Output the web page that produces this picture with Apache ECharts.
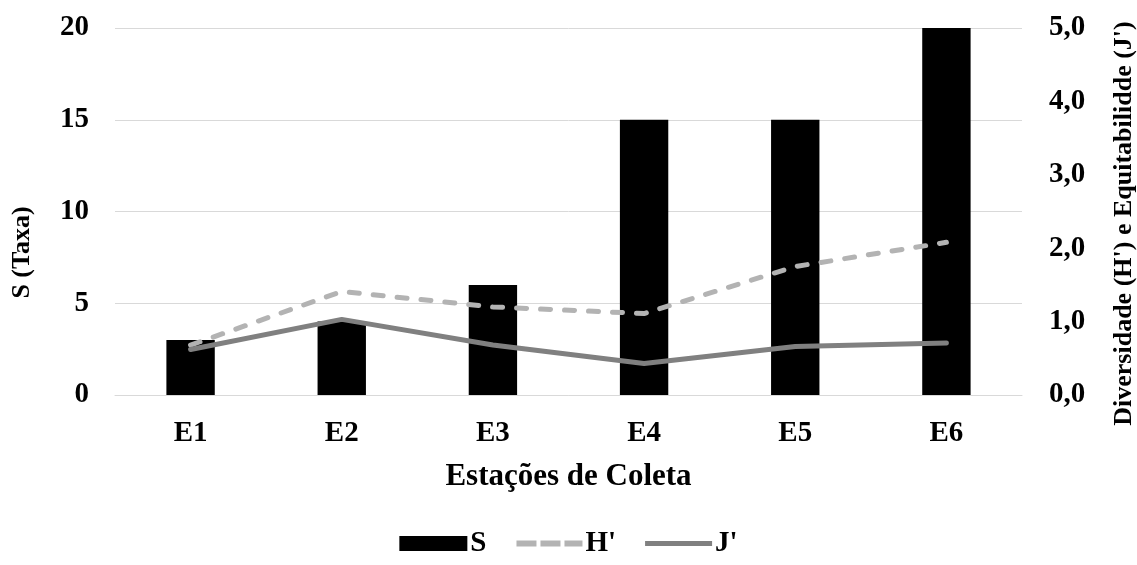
<!DOCTYPE html>
<html><head><meta charset="utf-8">
<script src="https://cdn.jsdelivr.net/npm/echarts@6/dist/echarts.min.js"></script>
<style>html,body{margin:0;padding:0;background:#fff}#c{width:1137px;height:565px}</style>
</head><body><div id="c"></div>
<script>
var categories = ['E1','E2','E3','E4','E5','E6'];
var S = [3,4,6,15,15,20];
var H = [0.68,1.41,1.20,1.11,1.75,2.08];
var J = [0.62,1.03,0.68,0.43,0.66,0.71];
var font = 'Liberation Serif, Times New Roman, serif';
var dashIcon = 'path://M0,0h0.05v0.05h-0.05z M0,14.95h0.05v0.05h-0.05z M2,4.5h20v6h-20z M26,4.5h20v6h-20z M50,4.5h18v6h-18z';
var lineIcon = 'path://M0,0h0.05v0.05h-0.05z M0,14.95h0.05v0.05h-0.05z M1,5h68v5h-68z';
var chart = echarts.init(document.getElementById('c'));
chart.setOption({
  animation:false,
  textStyle:{fontFamily:font},
  grid:{left:115,right:115,top:28,bottom:170,containLabel:false,outerBoundsMode:'none'},
  legend:{bottom:2,left:'center',itemGap:28,itemWidth:68,itemHeight:15,
    textStyle:{fontFamily:font,fontWeight:'bold',fontSize:29,color:'#000',padding:[0,0,0,-2]},
    data:[{name:'S',icon:'rect'},
          {name:"H'",icon:dashIcon},
          {name:"J'",icon:lineIcon}]},
  xAxis:{type:'category',data:categories,
    axisLine:{show:true,lineStyle:{color:'#d9d9d9'}},axisTick:{show:false},
    axisLabel:{fontFamily:font,fontWeight:'bold',fontSize:29,color:'#000',margin:24},
    name:'Estações de Coleta',nameLocation:'middle',nameGap:66,
    nameTextStyle:{fontFamily:font,fontWeight:'bold',fontSize:31,color:'#000'}},
  yAxis:[{type:'value',min:0,max:20,interval:5,
    splitLine:{lineStyle:{color:'#d9d9d9',width:1}},
    axisLabel:{fontFamily:font,fontWeight:'bold',fontSize:29,color:'#000',margin:26},
    name:'S (Taxa)',nameLocation:'middle',nameGap:80,
    nameTextStyle:{fontFamily:font,fontWeight:'bold',fontSize:26,color:'#000',padding:[0,82,0,0]}},
   {type:'value',min:0,max:5,interval:1,splitLine:{show:false},
    axisLabel:{fontFamily:font,fontWeight:'bold',fontSize:29,color:'#000',margin:27,
      formatter:function(v){return v.toFixed(1).replace('.',',');}},
    name:"Diversidade (H') e Equitabilidde (J')",nameLocation:'middle',nameGap:89,nameRotate:90,
    nameTextStyle:{fontFamily:font,fontWeight:'bold',fontSize:26,color:'#000',padding:[0,24,0,0]}}],
  series:[
    {name:'S',type:'bar',data:S,barWidth:'32%',itemStyle:{color:'#000'}},
    {name:"H'",type:'line',yAxisIndex:1,data:H,symbol:'none',
      lineStyle:{color:'#b3b3b3',width:5,type:[10,14],cap:'round'},itemStyle:{color:'#b3b3b3'}},
    {name:"J'",type:'line',yAxisIndex:1,data:J,symbol:'none',
      lineStyle:{color:'#808080',width:5,cap:'round'},itemStyle:{color:'#808080'}}
  ]
});
</script></body></html>
